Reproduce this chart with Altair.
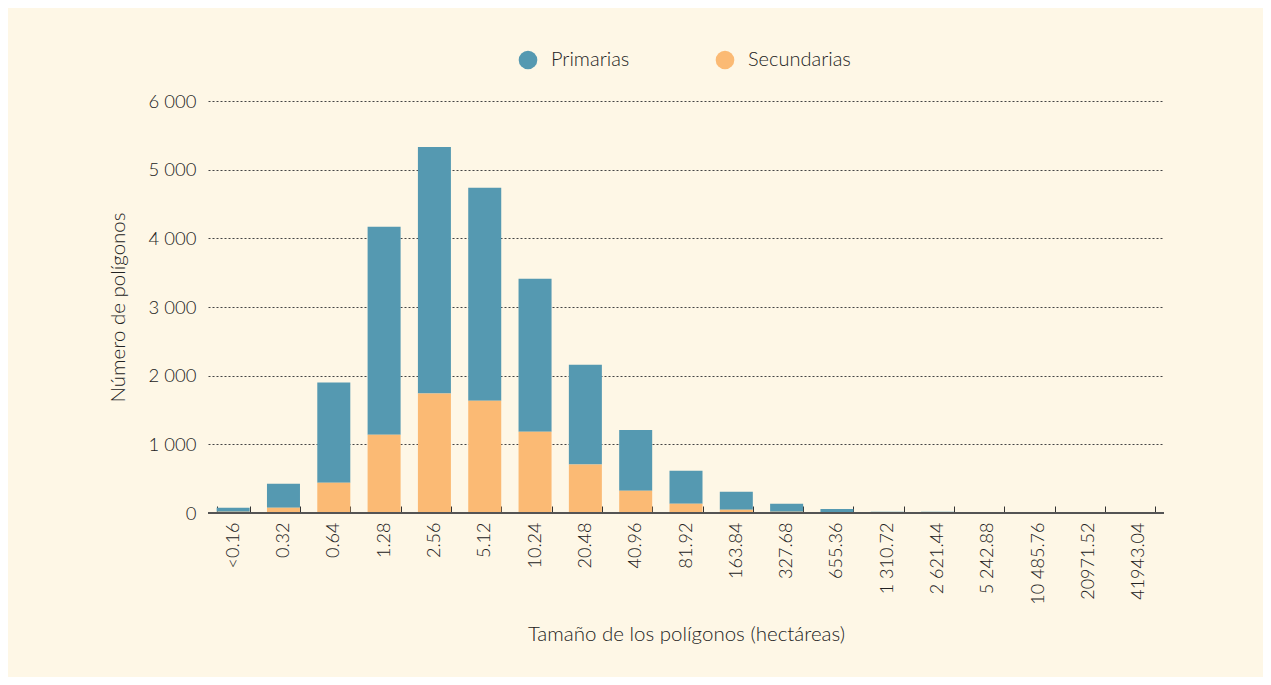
import altair as alt
import pandas as pd

categories = ["<0.16", "0.32", "0.64", "1.28", "2.56", "5.12", "10.24", "20.48",
              "40.96", "81.92", "163.84", "327.68", "655.36", "1 310.72",
              "2 621.44", "5 242.88", "10 485.76", "20971.52", "41943.04"]
primarias = [55, 350, 1460, 3030, 3590, 3100, 2225, 1455, 885, 480, 262, 115, 54, 15, 15, 3, 3, 0, 2]
secundarias = [20, 75, 440, 1140, 1740, 1635, 1185, 705, 325, 135, 48, 20, 6, 3, 3, 1, 1, 0, 1]
series_names = ["Primarias", "Secundarias"]
series_colors = ["#5599B1", "#FBBA74"]

rows = []
for c, p, s in zip(categories, primarias, secundarias):
    rows.append({"cat": c, "serie": "Primarias", "valor": p, "orden": 1})
    rows.append({"cat": c, "serie": "Secundarias", "valor": s, "orden": 0})
df = pd.DataFrame(rows)

FONT = "Lato"
TXT = "#222222"
W = 300

bars = alt.Chart(df).mark_bar().encode(
    x=alt.X("cat:N", sort=categories,
            scale=alt.Scale(paddingInner=0.344, paddingOuter=0.172),
            axis=alt.Axis(title="Tamaño de los polígonos (hectáreas)", labelAngle=-90,
                          tickBand="extent", offset=-7, tickSize=7, tickColor="#333333",
                          tickWidth=1, domain=False, labelPadding=9, labelFontSize=18,
                          labelColor=TXT, labelFontWeight=W, titleFontSize=20.5, titleColor=TXT,
                          titleFontWeight=W, titleY=128, titleBaseline="middle",
                          grid=False)),
    y=alt.Y("valor:Q", stack="zero", scale=alt.Scale(domain=[0, 6000], nice=False),
            axis=alt.Axis(title="Número de polígonos", values=[0, 1000, 2000, 3000, 4000, 5000, 6000],
                          labelExpr="replace(format(datum.value, ','), ',', ' ')",
                          domain=False, ticks=False, labelPadding=12, labelFontSize=18.5,
                          labelColor=TXT, labelFontWeight=W, titleFontSize=20.5, titleColor=TXT,
                          titleFontWeight=W, titleX=-90, titleBaseline="middle",
                          grid=True, gridDash=[2, 2], gridColor="#444444", gridWidth=1)),
    color=alt.Color("serie:N", scale=alt.Scale(domain=series_names, range=series_colors),
                    legend=alt.Legend(title=None, orient="none", direction="horizontal",
                                      legendX=310, legendY=-51, symbolType="circle",
                                      symbolSize=346, symbolStrokeWidth=0, symbolOpacity=1,
                                      labelFontSize=20, labelColor=TXT, labelFontWeight=W,
                                      labelOffset=13, columnPadding=85, padding=0)),
    order=alt.Order("orden:Q"),
)

base_line = alt.Chart(df).mark_rule(color="#555555", strokeWidth=1.5).encode(
    y=alt.datum(0)
)

chart = alt.layer(bars, base_line).properties(
    width=956, height=412,
    background="#FEF7E6",
    padding={"left": 200, "top": 93, "right": 99, "bottom": 164},
    autosize=alt.AutoSizeParams(type="none"),
).configure(font=FONT).configure_view(stroke=None, strokeWidth=0)

chart.save("out.html", embed_options={"renderer": "svg", "actions": False})
